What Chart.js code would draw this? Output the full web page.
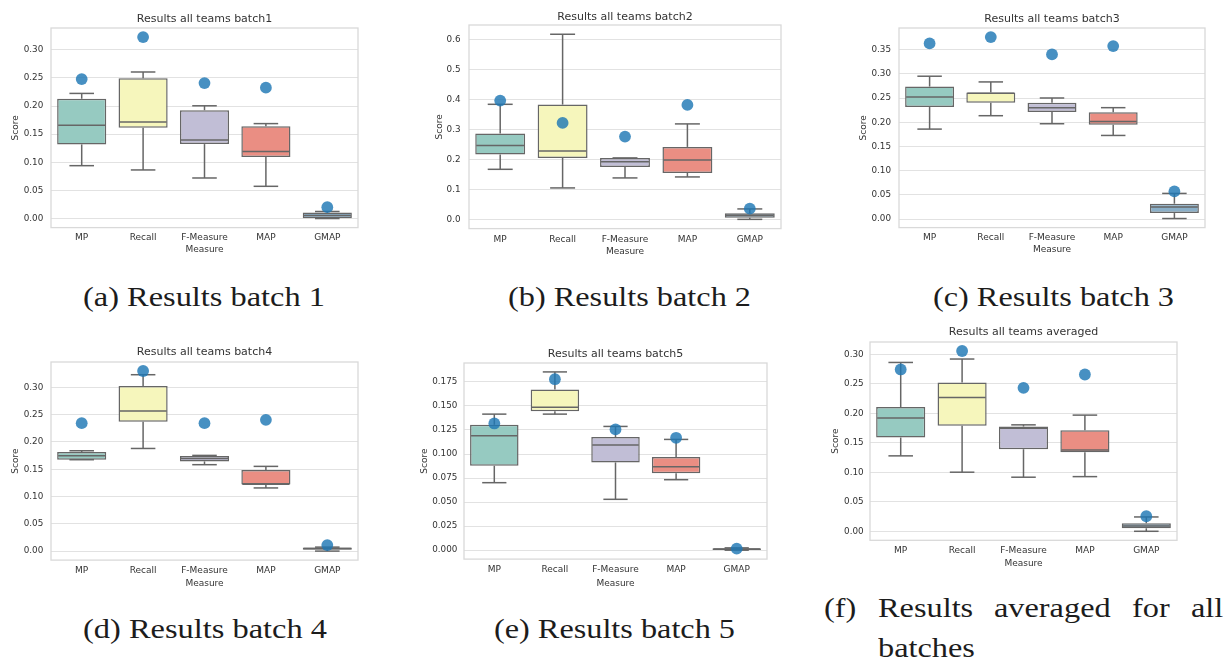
<!DOCTYPE html>
<html>
<head>
<meta charset="utf-8">
<script src="https://cdn.jsdelivr.net/npm/chart.js@4.4.1/dist/chart.umd.min.js"></script>
<style>
  html, body { margin: 0; padding: 0; background: #ffffff; }
  #page { position: relative; width: 1225px; height: 659px; overflow: hidden; background: #ffffff; }
  canvas { position: absolute; }
  .cap { position: absolute; white-space: nowrap; font-family: "Liberation Serif", "DejaVu Serif", serif;
         font-size: 28px; line-height: 28px; color: #1c1c1c; transform-origin: 0 0; }
</style>
</head>
<body>
<div id="page"></div>
<script>
// Measures on the category axis
const measures = ['MP', 'Recall', 'F-Measure', 'MAP', 'GMAP'];

// Batch 1: whisker ends [low, high], boxes [Q1, Q3], medians, highlighted team score
const batch1Whiskers = [[0.094, 0.2225], [0.0864, 0.2606], [0.0721, 0.2005], [0.0573, 0.1688], [0.0, 0.0125]];
const batch1Boxes    = [[0.1318, 0.213], [0.1616, 0.2493], [0.1324, 0.1926], [0.1092, 0.164], [0.0005, 0.0107]];
const batch1Medians  = [0.1658, 0.1718, 0.1396, 0.1192, 0.0054];
const batch1Team     = [0.248, 0.3227, 0.2409, 0.2327, 0.0202];
const batch1Ticks    = ['0.00', '0.05', '0.10', '0.15', '0.20', '0.25', '0.30'];

// Batch 2
const batch2Whiskers = [[0.1677, 0.3843], [0.1057, 0.6177], [0.139, 0.2057], [0.1423, 0.319], [0.001, 0.0357]];
const batch2Boxes    = [[0.2167, 0.2867], [0.2057, 0.3833], [0.1757, 0.2057], [0.1557, 0.2423], [0.0067, 0.021]];
const batch2Medians  = [0.2467, 0.229, 0.1933, 0.199, 0.0143];
const batch2Team     = [0.3967, 0.3223, 0.2767, 0.3823, 0.0367];
const batch2Ticks    = ['0.0', '0.1', '0.2', '0.3', '0.4', '0.5', '0.6'];

// Batch 3
const batch3Whiskers = [[0.186, 0.2953], [0.2137, 0.2835], [0.1971, 0.2503], [0.1729, 0.2303], [0.0012, 0.0531]];
const batch3Boxes    = [[0.2316, 0.2739], [0.2407, 0.2615], [0.2213, 0.2407], [0.195, 0.2206], [0.0125, 0.0318]];
const batch3Medians  = [0.2523, 0.26, 0.2303, 0.2019, 0.0249];
const batch3Team     = [0.3631, 0.3762, 0.3403, 0.3575, 0.0573];
const batch3Ticks    = ['0.00', '0.05', '0.10', '0.15', '0.20', '0.25', '0.30', '0.35'];

// Batch 4
const batch4Whiskers = [[0.1674, 0.1838], [0.188, 0.3231], [0.1583, 0.1753], [0.1157, 0.1552], [0.0, 0.0073]];
const batch4Boxes    = [[0.1674, 0.1815], [0.2368, 0.3025], [0.1643, 0.1741], [0.1218, 0.1486], [0.0026, 0.0065]];
const batch4Medians  = [0.1747, 0.2568, 0.1698, 0.1225, 0.0049];
const batch4Team     = [0.2344, 0.3299, 0.2344, 0.2404, 0.011];
const batch4Ticks    = ['0.00', '0.05', '0.10', '0.15', '0.20', '0.25', '0.30'];

// Batch 5
const batch5Whiskers = [[0.0702, 0.1415], [0.1415, 0.1854], [0.0529, 0.1287], [0.0733, 0.1152], [0.0, 0.0024]];
const batch5Boxes    = [[0.0878, 0.1304], [0.1446, 0.1671], [0.0913, 0.1176], [0.0799, 0.0968], [0.0003, 0.002]];
const batch5Medians  = [0.119, 0.1487, 0.1093, 0.0868, 0.0013];
const batch5Team     = [0.1318, 0.1778, 0.1256, 0.1169, 0.0017];
const batch5Ticks    = ['0.000', '0.025', '0.050', '0.075', '0.100', '0.125', '0.150', '0.175'];

// Averaged over all batches
const avgWhiskers = [[0.1279, 0.2863], [0.1002, 0.2921], [0.0917, 0.1805], [0.0927, 0.197], [0.0, 0.0243]];
const avgBoxes    = [[0.159, 0.2106], [0.1788, 0.2523], [0.1392, 0.1776], [0.1341, 0.1715], [0.0051, 0.0136]];
const avgMedians  = [0.1919, 0.2269, 0.1749, 0.138, 0.009];
const avgTeam     = [0.2744, 0.3057, 0.2433, 0.2659, 0.0255];
const avgTicks    = ['0.00', '0.05', '0.10', '0.15', '0.20', '0.25', '0.30'];

// Styling
const boxColors = ['#96cac1', '#f6f6bc', '#c1bed6', '#ea8e83', '#8aafc8'];
const lineGray = '#666666';
const dotColor = 'rgba(31, 119, 180, 0.82)';
const textColor = '#333333';
const FAMILY = '"DejaVu Sans", sans-serif';
const TICK_SIZE = 8.8, LABEL_SIZE = 9, TITLE_SIZE = 11;
const lh = s => s * 1.2;

// Panel placement: plot frame [left, top, right, bottom] and text anchors
const panels = [
  { title: 'Results all teams batch1', whiskers: batch1Whiskers, boxes: batch1Boxes, medians: batch1Medians, team: batch1Team, ticks: batch1Ticks,
    frame: [51, 28, 358, 228], titleY: 19, scoreX: 15.7, measureY: 250, tickGap: 7.7, labelY: 238 },
  { title: 'Results all teams batch2', whiskers: batch2Whiskers, boxes: batch2Boxes, medians: batch2Medians, team: batch2Team, ticks: batch2Ticks,
    frame: [469, 25, 781, 229], titleY: 16.7, scoreX: 439, measureY: 252, tickGap: 8.4, labelY: 240 },
  { title: 'Results all teams batch3', whiskers: batch3Whiskers, boxes: batch3Boxes, medians: batch3Medians, team: batch3Team, ticks: batch3Ticks,
    frame: [899, 28, 1205, 228], titleY: 19.3, scoreX: 863.3, measureY: 250, tickGap: 8, labelY: 238.3 },
  { title: 'Results all teams batch4', whiskers: batch4Whiskers, boxes: batch4Boxes, medians: batch4Medians, team: batch4Team, ticks: batch4Ticks,
    frame: [51, 362, 358, 560], titleY: 352.3, scoreX: 15.7, measureY: 583.5, tickGap: 7.7, labelY: 570.7 },
  { title: 'Results all teams batch5', whiskers: batch5Whiskers, boxes: batch5Boxes, medians: batch5Medians, team: batch5Team, ticks: batch5Ticks,
    frame: [464, 363, 767, 559], titleY: 354, scoreX: 424, measureY: 583.5, tickGap: 6.6, labelY: 569.3 },
  { title: 'Results all teams averaged', whiskers: avgWhiskers, boxes: avgBoxes, medians: avgMedians, team: avgTeam, ticks: avgTicks,
    frame: [870, 342, 1177, 540], titleY: 332.3, scoreX: 835, measureY: 563.3, tickGap: 6.3, labelY: 550.7 }
];

// Whiskers, caps and median lines, placed through the chart's own scales
const boxPlotPlugin = {
  id: 'boxPlotLines',
  beforeDatasetsDraw(chart) {
    const a = chart.chartArea, ctx = chart.ctx;
    ctx.save();
    ctx.strokeStyle = '#d9d9d9';
    ctx.lineWidth = 1.3;
    ctx.strokeRect(a.left, a.top, a.right - a.left, a.bottom - a.top);
    ctx.restore();
  },
  afterDatasetDraw(chart, args) {
    if (args.index !== 0) return;
    const p = chart.options.plugins.boxPlotLines;
    const y = chart.scales.y, ctx = chart.ctx;
    ctx.save();
    ctx.strokeStyle = lineGray;
    ctx.lineWidth = 1.5;
    ctx.lineCap = 'butt';
    args.meta.data.forEach((bar, i) => {
      const x = bar.x, w = bar.width;
      const [lo, hi] = p.whiskers[i];
      const [q1, q3] = p.boxes[i];
      const seg = (x1, y1, x2, y2) => { ctx.beginPath(); ctx.moveTo(x1, y1); ctx.lineTo(x2, y2); ctx.stroke(); };
      if (hi > q3) seg(x, y.getPixelForValue(q3), x, y.getPixelForValue(hi));
      if (lo < q1) seg(x, y.getPixelForValue(q1), x, y.getPixelForValue(lo));
      seg(x - w / 4, y.getPixelForValue(hi), x + w / 4, y.getPixelForValue(hi));
      seg(x - w / 4, y.getPixelForValue(lo), x + w / 4, y.getPixelForValue(lo));
      seg(x - w / 2 + 1, y.getPixelForValue(p.medians[i]), x + w / 2 - 1, y.getPixelForValue(p.medians[i]));
    });
    ctx.restore();
  }
};

const page = document.getElementById('page');

panels.forEach(p => {
  const [L, T, R, B] = p.frame;
  const titleBlock = 24;
  const padR = 12;
  const canvasLeft = Math.round(L - (L - p.scoreX + lh(LABEL_SIZE) / 2));
  const yW = L - canvasLeft;
  const xH = p.measureY - B + lh(LABEL_SIZE) / 2;
  const canvasTop = T - titleBlock;
  const cw = Math.round(yW + (R - L) + padR);
  const ch = Math.round(titleBlock + (B - T) + xH);
  const titlePadTop = titleBlock - (T - p.titleY) - lh(TITLE_SIZE) / 2;
  const titlePadBottom = titleBlock - titlePadTop - lh(TITLE_SIZE);

  // y range: data extent with a 5% margin on both ends
  const allVals = p.whiskers.flat().concat(p.team);
  const dMin = Math.min(...allVals), dMax = Math.max(...allVals);
  const margin = (dMax - dMin) * 0.05;

  const canvas = document.createElement('canvas');
  canvas.width = cw; canvas.height = ch;
  canvas.style.left = canvasLeft + 'px';
  canvas.style.top = canvasTop + 'px';
  canvas.style.width = cw + 'px';
  canvas.style.height = ch + 'px';
  page.appendChild(canvas);

  new Chart(canvas, {
    type: 'bar',
    data: {
      labels: measures,
      datasets: [
        { type: 'bar', data: p.boxes, backgroundColor: boxColors, borderColor: lineGray, borderWidth: 1.5,
          borderSkipped: false, barPercentage: 0.8, categoryPercentage: 1.0, order: 2 },
        { type: 'line', data: p.team, showLine: false, pointRadius: 5.9, pointHoverRadius: 5.9,
          pointBackgroundColor: dotColor, pointBorderWidth: 0, borderWidth: 0, order: 1 }
      ]
    },
    options: {
      responsive: false, animation: false, devicePixelRatio: 1,
      events: [],
      layout: { padding: { top: 0, left: 0, right: padR, bottom: 0 } },
      plugins: {
        legend: { display: false },
        tooltip: { enabled: false },
        title: { display: true, text: p.title, fullSize: false, color: textColor,
                 font: { family: FAMILY, size: TITLE_SIZE, weight: 'normal' },
                 padding: { top: titlePadTop, bottom: titlePadBottom } },
        boxPlotLines: { whiskers: p.whiskers, boxes: p.boxes, medians: p.medians }
      },
      scales: {
        x: {
          grid: { display: false, drawTicks: false },
          border: { display: false },
          ticks: { color: textColor, font: { family: FAMILY, size: LABEL_SIZE },
                   padding: p.labelY - B - lh(LABEL_SIZE) / 2, maxRotation: 0, autoSkip: false },
          title: { display: true, text: 'Measure', color: textColor,
                   font: { family: FAMILY, size: LABEL_SIZE }, padding: { top: 0, bottom: 0 } },
          afterFit: s => { s.height = xH; }
        },
        y: {
          min: dMin - margin, max: dMax + margin,
          grid: { color: '#e2e2e2', lineWidth: 1, drawTicks: false },
          border: { display: false },
          afterBuildTicks: s => { s.ticks = p.ticks.map(t => ({ value: parseFloat(t) })); },
          ticks: { color: textColor, font: { family: FAMILY, size: TICK_SIZE }, padding: p.tickGap,
                   callback: (v, i) => p.ticks[i] },
          title: { display: true, text: 'Score', color: textColor,
                   font: { family: FAMILY, size: LABEL_SIZE }, padding: { top: 0, bottom: 0 } },
          afterFit: s => { s.width = yW; }
        }
      }
    },
    plugins: [boxPlotPlugin]
  });
});

// Sub-figure captions
const captions = [
  { text: '(a) Results batch 1', left: 83, right: 325, base: 306 },
  { text: '(b) Results batch 2', left: 508, right: 751, base: 306 },
  { text: '(c) Results batch 3', left: 933, right: 1174, base: 306 },
  { text: '(d) Results batch 4', left: 83, right: 327, base: 638 },
  { text: '(e) Results batch 5', left: 494, right: 735, base: 638 }
];
const captionF = { label: '(f)', words: ['Results', 'averaged', 'for', 'all'], next: 'batches',
                   left: 824, right: 1223, base: 617, nextBase: 657 };

const ASC = 0.891, DESC = 0.216, FS = 28;
const baselineOffset = (FS - (ASC + DESC) * FS) / 2 + ASC * FS;

function makeSpan(text, base) {
  const s = document.createElement('span');
  s.className = 'cap';
  s.textContent = text;
  s.style.top = (base - baselineOffset) + 'px';
  page.appendChild(s);
  return s;
}

let scaleSum = 0;
captions.forEach(c => {
  const s = makeSpan(c.text, c.base);
  const k = (c.right - c.left) / s.getBoundingClientRect().width;
  scaleSum += k;
  s.style.left = c.left + 'px';
  s.style.transform = 'scaleX(' + k + ')';
});
const kAvg = scaleSum / captions.length;

// Justified first line with a hanging indent for the continuation
(function () {
  const spans = [captionF.label].concat(captionF.words).map(w => makeSpan(w, captionF.base));
  const widths = spans.map(s => s.getBoundingClientRect().width * kAvg);
  const total = widths.reduce((a, b) => a + b, 0);
  const gap = (captionF.right - captionF.left - total) / (spans.length - 1);
  let x = captionF.left;
  let indent = 0;
  spans.forEach((s, i) => {
    s.style.left = x + 'px';
    s.style.transform = 'scaleX(' + kAvg + ')';
    if (i === 1) indent = x;
    x += widths[i] + gap;
  });
  const n = makeSpan(captionF.next, captionF.nextBase);
  n.style.left = indent + 'px';
  n.style.transform = 'scaleX(' + kAvg + ')';
})();
</script>
</body>
</html>
